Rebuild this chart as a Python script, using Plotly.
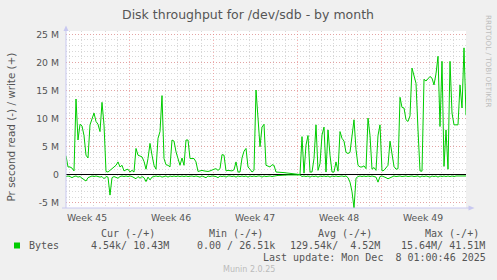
import pandas as pd
import plotly.graph_objects as go

# ---------------- data ----------------
start_time = "2025-11-04 18:00"
step = "4h"

# bytes written per second (MB/s), 4-hour steps
write_M = [
    3.4, 1.4, 1.4, 1.2, 0.7, 13.5, 6.2, 9.0, 8.7, 7.0,
    3.5, 3.0, 8.9, 9.8, 11.0, 9.5, 9.0, 7.7, 12.9, 8.9,
    0.6, 0.5, 0.8, 1.1, 1.5, 1.7, 2.3, 1.4, 1.7, 0.7,
    0.9, 1.0, 0.5, 0.8, 0.5, 4.7, 3.5, 3.4, 3.2, 2.4,
    1.0, 2.9, 5.6, 3.5, 1.7, 1.0, 6.5, 7.7, 14.1, 2.9,
    1.8, 1.7, 1.4, 6.2, 6.0, 4.1, 2.8, 1.7, 3.0, 1.7,
    6.2, 6.2, 2.9, 2.9, 2.9, 2.3, 0.6, 0.7, 0.8, 0.7,
    0.6, 0.6, 0.7, 0.9, 1.0, 1.1, 0.8, 1.1, 3.6, 3.5,
    0.7, 0.8, 0.8, 0.7, 0.9, 2.3, 0.5, 0.5, 3.0, 4.2,
    4.7, 1.4, 1.0, 0.5, 0.8, 15.1, 10.1, 5.0, 8.5, 9.0,
    1.7, 1.6, 1.4, 1.8, 1.7, 0.5, 0.5, 0.5, 0.45, 0.4,
    0.35, 0.3, 0.3, 0.25, 0.2, 0.1, 0.05, 0.05, 6.8, 0.3,
    5.3, 7.0, 0.5, 0.5, 2.9, 8.9, 0.8, 2.0, 7.1, 8.5,
    0.5, 8.0, 3.5, 0.5, 0.5, 2.3, 0.65, 7.7, 6.5, 6.0,
    4.0, 3.8, 4.0, 7.0, 9.8, 4.5, 1.7, 1.4, 1.4, 1.6,
    1.1, 10.1, 7.0, 1.0, 1.3, 0.8, 7.0, 8.9, 0.7, 0.8,
    1.2, 1.7, 6.0, 3.5, 1.5, 1.0, 1.1, 13.8, 12.0, 11.9,
    9.8, 9.5, 10.5, 19.0, 17.5, 16.3, 8.0, 0.7, 0.65, 17.0,
    16.7, 17.2, 17.5, 17.2, 16.0, 18.0, 21.1, 8.6, 20.2, 1.5,
    8.0, 1.0, 20.2, 11.0, 8.9, 8.9, 8.9, 16.0, 11.9, 22.6,
    10.6,
]

# bytes read per second (MB/s), drawn below zero
read_M = [
    0.3, 0.2, 0.3, 0.5, 0.3, 0.2, 0.4, 0.3, 0.6, 0.8,
    1.1, 0.5, 0.3, 0.2, 0.3, 0.2, 0.3, 0.4, 0.3, 0.7,
    0.3, 0.4, 3.6, 0.5, 0.3, 0.4, 0.6, 0.3, 0.2, 0.3,
    0.2, 0.3, 0.2, 0.3, 0.5, 0.7, 0.3, 0.6, 0.3, 0.5,
    1.2, 0.4, 0.9, 0.4, 0.3, 0.2, 0.3, 0.2, 0.4, 0.3,
    0.2, 0.4, 0.2, 0.3, 0.2, 0.3, 0.2, 0.3, 0.2, 0.3,
    0.2, 0.3, 0.2, 0.2, 0.3, 0.2, 0.3, 0.4, 0.2, 0.3,
    0.5, 0.2, 0.3, 0.2, 0.2, 0.3, 0.5, 0.2, 0.3, 0.2,
    0.4, 0.2, 0.2, 0.3, 0.2, 0.4, 0.2, 0.3, 0.2, 0.3,
    0.2, 0.4, 0.2, 0.3, 0.2, 0.3, 0.2, 0.2, 0.4, 0.2,
    0.3, 0.2, 0.2, 0.3, 0.2, 0.1, 0.1, 0.1, 0.05, 0.02,
    0.02, 0.02, 0.02, 0.02, 0.02, 0.02, 0.02, 0.02, 0.3, 0.2,
    0.3, 0.2, 0.4, 0.2, 0.3, 0.2, 0.4, 0.2, 0.3, 0.2,
    0.3, 0.2, 0.4, 0.2, 0.3, 0.2, 0.3, 0.2, 0.2, 0.3,
    0.2, 0.5, 1.3, 3.0, 5.9, 0.6, 0.3, 0.2, 0.3, 0.2,
    0.3, 0.2, 0.3, 0.2, 0.3, 0.4, 1.3, 0.3, 0.2, 0.3,
    0.5, 0.7, 0.5, 0.3, 0.2, 0.3, 0.2, 0.2, 0.3, 0.2,
    0.2, 0.3, 0.2, 0.2, 0.3, 0.2, 0.2, 0.4, 0.2, 0.3,
    0.2, 0.3, 0.4, 0.2, 0.3, 0.2, 0.4, 0.2, 0.3, 0.2,
    0.3, 0.2, 0.3, 0.2, 0.3, 0.2, 0.2, 0.3, 0.2, 0.3,
    0.2,
]

y_tick_vals = [-5e6, 0, 5e6, 10e6, 15e6, 20e6, 25e6]
y_tick_text = ["-5 M", "0", "5 M", "10 M", "15 M", "20 M", "25 M"]

title_text = "Disk throughput for /dev/sdb - by month"
y_title = "Pr second read (-) / write (+)"
series_name = "Bytes"
col_headers = ["Cur (-/+)", "Min (-/+)", "Avg (-/+)", "Max (-/+)"]
col_values = ["4.54k/ 10.43M", "0.00 / 26.51k", "129.54k/  4.52M", "15.64M/ 41.51M"]
last_update = "Last update: Mon Dec  8 01:00:46 2025"
footer = "Munin 2.0.25"
side_text = "RRDTOOL / TOBI OETIKER"

# ---------------- layout helpers ----------------
W, H = 497, 280
L, R, T, B = 66, 466, 31, 208  # plot area in pixels
GREEN = "#00CC00"
TXT = "#555555"
MONO = "DejaVu Sans Mono"
SANS = "DejaVu Sans"
AXC = "#C8C8F0"
MAJ = "rgba(235,130,130,0.6)"
MIN = "#D8D8D8"


def px(x):
    return (x - L) / (R - L)


def py(y):
    return (B - y) / (B - T)


def nb(s):
    return s.replace(" ", "\u00a0")


times = pd.date_range(start_time, periods=len(write_M), freq=step)
x_end = times[-1]

fig = go.Figure()
fig.add_trace(go.Scatter(x=times, y=[v * 1e6 for v in write_M], mode="lines",
                         line=dict(color=GREEN, width=1), hoverinfo="skip"))
fig.add_trace(go.Scatter(x=times, y=[-v * 1e6 for v in read_M], mode="lines",
                         line=dict(color=GREEN, width=1), hoverinfo="skip"))

fig.update_layout(
    width=W, height=H,
    margin=dict(l=L, r=W - R, t=T, b=H - B, pad=0),
    paper_bgcolor="#F0F0F0", plot_bgcolor="#FFFFFF",
    showlegend=False,
    font=dict(family=SANS, size=9, color=TXT),
)

fig.update_xaxes(
    type="date", range=[times[0], x_end],
    tick0="2025-11-03", dtick=7 * 86400000,
    ticklabelmode="period", tickformat="Week %V",
    ticks="", showline=False, zeroline=False,
    showgrid=True, gridcolor=MAJ, griddash="1px,2px", gridwidth=1,
    minor=dict(tick0="2025-11-03", dtick=86400000, showgrid=True,
               gridcolor=MIN, griddash="1px,2px", gridwidth=1),
    tickfont=dict(family=SANS, size=9.3, color=TXT),
    ticklabelstandoff=3,
)
fig.update_yaxes(
    range=[-5.9e6, 25.6e6],
    tickvals=y_tick_vals, ticktext=y_tick_text,
    ticks="", showline=False,
    showgrid=True, gridcolor=MAJ, griddash="1px,2px", gridwidth=1,
    minor=dict(dtick=1e6, tick0=0, showgrid=True,
               gridcolor=MIN, griddash="1px,2px", gridwidth=1),
    zeroline=True, zerolinecolor="#000000", zerolinewidth=1,
    tickfont=dict(family=SANS, size=9.3, color=TXT),
    ticklabelstandoff=6,
)

shapes = []
# axis lines with arrows
shapes.append(dict(type="line", xref="paper", yref="paper", x0=px(L), x1=px(L),
                   y0=py(B), y1=py(29), line=dict(color=AXC, width=1)))
shapes.append(dict(type="line", xref="paper", yref="paper", x0=px(62), x1=px(470),
                   y0=py(B), y1=py(B), line=dict(color=AXC, width=1)))
shapes.append(dict(type="path", xref="paper", yref="paper",
                   path=f"M {px(63.5)} {py(31)} L {px(68.5)} {py(31)} L {px(66)} {py(25.5)} Z",
                   fillcolor=AXC, line=dict(color=AXC, width=0)))
shapes.append(dict(type="path", xref="paper", yref="paper",
                   path=f"M {px(468.5)} {py(205.5)} L {px(468.5)} {py(210.5)} L {px(474.5)} {py(B)} Z",
                   fillcolor=AXC, line=dict(color=AXC, width=0)))
# legend swatch
shapes.append(dict(type="rect", xref="paper", yref="paper", x0=px(14), x1=px(20),
                   y0=py(248.5), y1=py(242.5), fillcolor=GREEN, line=dict(width=0)))
fig.update_layout(shapes=shapes)

ann = []


def text(x, y, s, size, color=TXT, family=SANS, xanchor="left", angle=0):
    ann.append(dict(x=px(x), y=py(y), xref="paper", yref="paper", text=s,
                    showarrow=False, xanchor=xanchor, yanchor="middle",
                    textangle=angle, font=dict(family=family, size=size, color=color)))


text(248, 14, title_text, 12.5, xanchor="center")
text(10.5, 127, y_title, 10.4, xanchor="center", angle=-90)
text(489, 61, side_text, 7.2, color="#BEBEBE", xanchor="center", angle=90)
text(26.7, 245.5, series_name, 10, family=MONO)
hdr_x = [98.7, 207.3, 316, 423.3]
for hx, h in zip(hdr_x, col_headers):
    text(hx, 233.5, nb(h), 10, family=MONO)
val_x = [89.3, 194.7, 288, 398.7]
for vx, v in zip(val_x, col_values):
    text(vx, 245.5, nb(v), 10, family=MONO)
text(261.3, 257.5, nb(last_update), 10, family=MONO)
text(249, 269.5, footer, 8, color="#BBBBBB", xanchor="center")
fig.update_layout(annotations=ann)

fig.write_html("out.html", config={"displayModeBar": False})
